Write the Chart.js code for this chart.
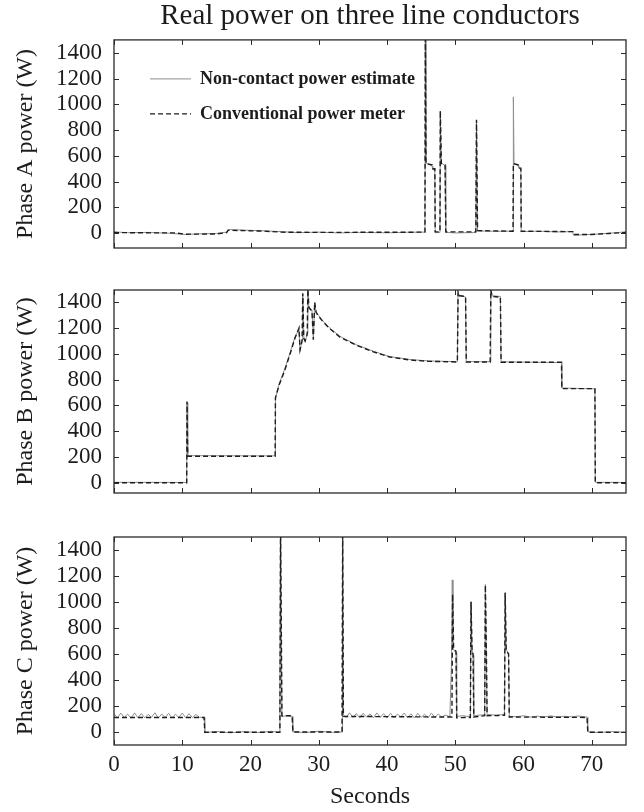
<!DOCTYPE html>
<html><head><meta charset="utf-8">
<script src="https://cdn.jsdelivr.net/npm/chart.js@4.4.1/dist/chart.umd.min.js"></script>
<style>
html,body{margin:0;padding:0;background:#fff;}
#wrap{position:relative;width:644px;height:812px;background:#fff;}
canvas{position:absolute;left:0;}
</style></head><body>
<div id="wrap">
<canvas id="cA" width="644" height="260" style="top:0px"></canvas>
<canvas id="cB" width="644" height="250" style="top:260px"></canvas>
<canvas id="cC" width="644" height="302" style="top:510px"></canvas>
</div>
<script>
const chartTitle = 'Real power on three line conductors';
const xTitle = 'Seconds';
const seriesNames = ['Non-contact power estimate', 'Conventional power meter'];
const axisTitles = ['Phase A power (W)', 'Phase B power (W)', 'Phase C power (W)'];
const xTickValues = [0, 10, 20, 30, 40, 50, 60, 70];
const yTickValues = [0, 200, 400, 600, 800, 1000, 1200, 1400];

// Phase A
const aMeterT = [0, 4, 9, 10.5, 15, 16.5, 16.7, 19, 22, 24.5, 30, 38, 45.55, 45.6, 45.7, 46.6, 46.7, 47.0, 47.05, 47.75, 47.8, 47.95, 48.5, 48.6, 53.0, 53.1, 53.25, 58.45, 58.5, 59.2, 59.3, 59.6, 59.65, 67.2, 67.3, 70, 72.5, 75];
const aMeterV = [5, 3, 2, -8, -6, 4, 22, 20, 16, 8, 6, 7, 8, 1600, 540, 530, 500, 500, 10, 10, 950, 540, 530, 10, 10, 880, 20, 15, 540, 530, 505, 505, 15, 12, -10, -10, -2, 5];
const aEstT = [0, 2, 5, 8, 10.5, 13, 15, 16.5, 16.7, 18, 20, 22, 24.5, 27, 30, 33, 36, 40, 43, 45.55, 45.62, 45.7, 46.6, 46.7, 47.0, 47.05, 47.75, 47.8, 47.95, 48.5, 48.6, 50, 53.0, 53.1, 53.25, 56, 58.45, 58.5, 58.6, 59.2, 59.3, 59.6, 59.65, 62, 65, 67.2, 67.3, 69, 71, 73, 75];
const aEstV = [10, 4, 6, 0, -10, -4, -2, 8, 28, 26, 22, 18, 12, 4, 8, 2, 6, 3, 7, 8, 1600, 545, 520, 495, 490, 4, 6, 945, 545, 525, 6, 2, 5, 870, 18, 14, 16, 1058, 540, 525, 505, 500, 12, 16, 10, 12, -16, -12, -6, 2, 10];

// Phase B
const bT = [0, 10.65, 10.7, 10.8, 23.6, 23.65, 24.2, 25.0, 25.8, 26.5, 27.1, 27.25, 27.55, 27.65, 27.8, 28.0, 28.3, 28.4, 28.55, 29.0, 29.2, 29.4, 29.6, 30.0, 30.6, 31.5, 33.1, 35.5, 38.0, 40.4, 43.5, 46.0, 49.5, 50.3, 50.4, 50.6, 51.5, 51.6, 55.1, 55.2, 55.4, 56.6, 56.7, 65.55, 65.6, 70.45, 70.5, 75];
const bMeterV = [0, 0, 630, 205, 205, 660, 760, 870, 1000, 1120, 1200, 1030, 1100, 1470, 1120, 1100, 1150, 1500, 1360, 1330, 1110, 1400, 1320, 1290, 1250, 1200, 1130, 1067, 1015, 975, 951, 942, 938, 936, 1480, 1450, 1445, 936, 936, 1495, 1445, 1440, 935, 935, 730, 730, 0, 0];
const bEstV = [3, 2, 620, 210, 208, 650, 770, 880, 1010, 1130, 1190, 1020, 1110, 1460, 1130, 1090, 1160, 1490, 1350, 1340, 1120, 1390, 1330, 1295, 1255, 1205, 1135, 1070, 1020, 978, 955, 945, 940, 938, 1470, 1455, 1440, 940, 938, 1490, 1450, 1445, 938, 932, 735, 728, 3, 2];

// Phase C
const cMeterT = [0, 13.2, 13.3, 24.3, 24.4, 24.6, 26.1, 26.2, 33.4, 33.5, 33.6, 40, 49.5, 49.6, 49.75, 50.1, 50.2, 52.2, 52.3, 52.45, 52.6, 52.7, 54.3, 54.4, 54.55, 54.65, 57.2, 57.3, 57.45, 57.8, 57.9, 63, 69.3, 69.4, 75];
const cMeterV = [112, 112, -2, -2, 1600, 125, 125, 0, 0, 1600, 120, 118, 115, 1060, 640, 620, 110, 112, 1000, 620, 600, 115, 125, 1130, 600, 125, 128, 1070, 630, 600, 115, 114, 112, -2, -3];
const cEstT = [0, 0.5, 1, 1.5, 2, 2.5, 3, 3.5, 4, 4.5, 5, 5.5, 6, 6.5, 7, 7.5, 8, 8.5, 9, 9.5, 10, 10.5, 11, 11.5, 12, 12.5, 13.2,
  13.3, 15, 17, 19, 21, 23, 24.3,
  24.38, 24.6, 25.3, 26.1, 26.2, 28, 30, 32, 33.4, 33.48, 33.6,
  34, 34.5, 35, 35.5, 36, 36.5, 37, 37.5, 38, 38.5, 39, 39.5, 40, 40.5, 41, 41.5, 42, 42.5, 43, 43.5, 44, 44.5, 45, 45.5, 46, 46.5, 47, 47.5, 48, 48.5,
  49.2, 49.45, 49.55, 49.65, 49.8, 50.1, 50.2, 51,
  52.2, 52.3, 52.45, 52.6, 52.7, 53.5,
  54.3, 54.4, 54.55, 54.65, 56,
  57.2, 57.3, 57.45, 57.8, 57.9,
  59, 60, 61, 62, 63, 64, 65, 66, 67, 68, 69.3,
  69.4, 71, 73, 75];
const cEstV = [140, 108, 145, 112, 138, 106, 147, 110, 142, 109, 136, 113, 148, 107, 139, 111, 144, 108, 137, 112, 146, 109, 141, 110, 135, 114, 112,
  -5, 4, -6, 3, -4, 5, -2,
  1600, 118, 126, 120, 2, -5, 6, -3, 0, 1600, 130,
  110, 148, 112, 142, 108, 145, 115, 139, 109, 147, 113, 141, 107, 144, 111, 138, 116, 146, 110, 140, 108, 143, 114, 137, 109, 145, 112, 139, 115, 130,
  118, 560, 1170, 650, 630, 610, 120, 125,
  118, 1005, 630, 590, 125, 130,
  132, 1135, 610, 135, 130,
  135, 1075, 640, 595, 120,
  118, 125, 115, 122, 116, 124, 114, 121, 117, 123, 115,
  2, -4, 3, -2];

const SERIF = "'Liberation Serif', 'DejaVu Serif', serif";
const TXT = '#1c1c1c';

function pts(T, V) { return T.map((t, i) => ({x: t, y: V[i]})); }

const gnuBox = {
  id: 'gnuBox',
  afterLayout(chart) {
    const sh = chart.options.plugins.gnuBox;
    if (sh && sh.legendShift && chart.legend) {
      chart.legend.left = chart.chartArea.left + sh.legendShift[0];
      chart.legend.top = chart.chartArea.top + sh.legendShift[1];
    }
  },
  afterDraw(chart) {
    const {ctx, chartArea: a, scales: {x, y}} = chart;
    ctx.save();
    ctx.strokeStyle = '#2a2a2a';
    ctx.lineWidth = 1.3;
    ctx.strokeRect(a.left, a.top, a.right - a.left, a.bottom - a.top);
    ctx.beginPath();
    const L = 5;
    xTickValues.forEach(v => {
      const px = Math.round(x.getPixelForValue(v)) + 0.5;
      ctx.moveTo(px, a.bottom); ctx.lineTo(px, a.bottom - L);
      ctx.moveTo(px, a.top); ctx.lineTo(px, a.top + L);
    });
    yTickValues.forEach(v => {
      const py = Math.round(y.getPixelForValue(v)) + 0.5;
      ctx.moveTo(a.left, py); ctx.lineTo(a.left + L, py);
      ctx.moveTo(a.right, py); ctx.lineTo(a.right - L, py);
    });
    ctx.lineWidth = 1;
    ctx.stroke();
    ctx.restore();
  }
};

function legendLabels(chart) {
  const items = Chart.defaults.plugins.legend.labels.generateLabels(chart);
  items.forEach(it => {
    const ds = chart.data.datasets[it.datasetIndex];
    it.lineDash = ds.borderDash || [];
    it.strokeStyle = ds.borderColor;
    it.lineWidth = ds.borderWidth;
    it.pointStyle = 'line';
  });
  return items;
}

function makeChart(id, idx, estT, estV, meterT, meterV, yMin, yMax, pad) {
  const isA = idx === 0, isC = idx === 2;
  return new Chart(document.getElementById(id), {
    type: 'line',
    data: {
      datasets: [
        {label: seriesNames[0], data: pts(estT, estV), borderColor: '#8e8e8e', backgroundColor: '#8e8e8e',
         borderWidth: 1, pointRadius: 0, order: 1, fill: false, tension: 0},
        {label: seriesNames[1], data: pts(meterT, meterV), borderColor: '#1e1e1e', backgroundColor: '#1e1e1e',
         borderWidth: 1.4, borderDash: [5, 3], pointRadius: 0, order: 0, fill: false, tension: 0}
      ]
    },
    options: {
      responsive: false,
      animation: false,
      devicePixelRatio: 1,
      events: [],
      layout: {padding: pad},
      plugins: {
        gnuBox: {legendShift: isA ? [19, 13] : null},
        tooltip: {enabled: false},
        title: {
          display: isA, text: chartTitle, fullSize: false, color: TXT,
          font: {family: SERIF, size: 29, weight: 'normal', lineHeight: 1.1},
          padding: {top: 0, bottom: 8}
        },
        legend: {
          display: isA,
          position: 'chartArea',
          align: 'start',
          labels: {
            usePointStyle: true, pointStyle: 'line', pointStyleWidth: 41,
            padding: 17, color: TXT,
            font: {family: SERIF, size: 18, weight: 'bold'},
            generateLabels: legendLabels,
            sort: (a, b) => a.datasetIndex - b.datasetIndex
          }
        }
      },
      scales: {
        x: {
          type: 'linear', min: 0, max: 75,
          grid: {display: false, drawTicks: false},
          border: {display: false},
          ticks: {display: isC, autoSkip: false, maxRotation: 0, color: TXT, padding: 6, font: {family: SERIF, size: 23}, callback: v => String(v)},
          afterBuildTicks: s => { s.ticks = xTickValues.map(v => ({value: v})); },
          afterFit: s => { s.height = isC ? 67 : 0; s.paddingLeft = 0; s.paddingRight = 0; },
          title: {display: isC, text: xTitle, color: TXT, font: {family: SERIF, size: 24}, padding: {top: 0, bottom: 1}}
        },
        y: {
          type: 'linear', min: yMin, max: yMax,
          grid: {display: false, drawTicks: false},
          border: {display: false},
          ticks: {autoSkip: false, color: TXT, padding: 12, font: {family: SERIF, size: 23}, callback: v => String(v)},
          afterBuildTicks: s => { s.ticks = yTickValues.map(v => ({value: v})); },
          afterFit: s => { s.width = 114; s.paddingTop = 0; s.paddingBottom = 0; },
          title: {display: true, text: axisTitles[idx], color: TXT, font: {family: SERIF, size: 24}, padding: {top: 11, bottom: 0}}
        }
      }
    },
    plugins: [gnuBox]
  });
}

makeChart('cA', 0, aEstT, aEstV, aMeterT, aMeterV, -115, 1500, {left: 0, right: 18, top: 0, bottom: 12});
makeChart('cB', 1, bT, bEstV, bT, bMeterV, -80, 1495, {left: 0, right: 18, top: 30, bottom: 17});
makeChart('cC', 2, cEstT, cEstV, cMeterT, cMeterV, -100, 1500, {left: 0, right: 18, top: 27, bottom: 0});
</script>
</body></html>
